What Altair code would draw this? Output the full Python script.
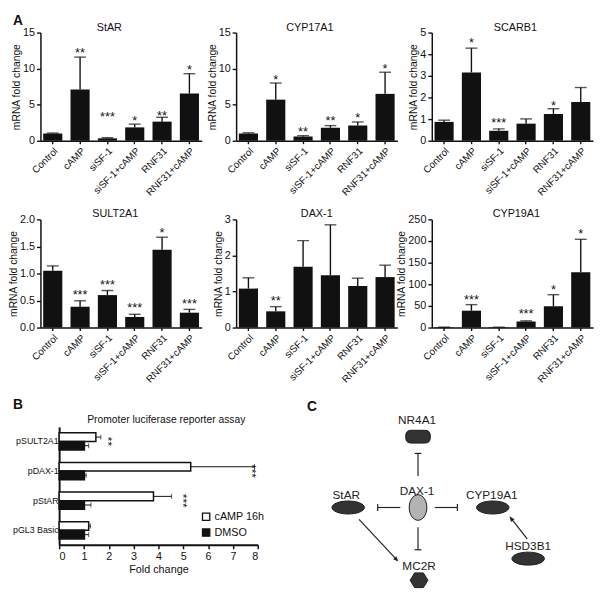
import altair as alt
import numpy as np
import pandas as pd

FONT = "Liberation Sans"
INK = "#111111"
nan = np.nan

# ---------------- Panel A data ----------------
conditions = ["Control", "cAMP", "siSF-1", "siSF-1+cAMP", "RNF31", "RNF31+cAMP"]

star_mean = [1.0, 7.1, 0.33, 1.85, 2.65, 6.55]
star_upper = [1.07, 11.6, 0.42, 2.3, 3.25, 9.3]
star_sig = ["", "**", "***", "*", "**", "*"]
star_sig_pos = [nan, 12.5, 3.7, 3.1, 3.8, 10.2]

cyp17_mean = [1.0, 5.7, 0.6, 1.8, 2.1, 6.5]
cyp17_upper = [1.1, 8.0, 0.7, 2.1, 2.6, 9.5]
cyp17_sig = ["", "*", "**", "**", "*", "*"]
cyp17_sig_pos = [nan, 8.8, 1.63, 3.2, 3.5, 10.4]

scarb_mean = [0.87, 3.16, 0.46, 0.79, 1.24, 1.79]
scarb_upper = [0.95, 4.28, 0.55, 1.01, 1.48, 2.46]
scarb_sig = ["", "*", "***", "", "*", ""]
scarb_sig_pos = [nan, 4.63, 0.94, nan, 1.75, nan]

sult_mean = [1.05, 0.385, 0.6, 0.196, 1.44, 0.275]
sult_upper = [1.14, 0.495, 0.685, 0.245, 1.67, 0.336]
sult_sig = ["", "***", "***", "***", "*", "***"]
sult_sig_pos = [nan, 0.65, 0.84, 0.42, 1.81, 0.48]

dax_mean = [1.08, 0.45, 1.69, 1.45, 1.15, 1.4]
dax_upper = [1.38, 0.58, 2.41, 2.85, 1.37, 1.73]
dax_sig = ["", "**", "", "", "", ""]
dax_sig_pos = [nan, 0.81, nan, nan, nan, nan]

cyp19_mean = [1.0, 39, 1.0, 14, 49, 128]
cyp19_upper = [1.0, 53, 1.0, 15.5, 76, 204]
cyp19_sig = ["", "***", "", "***", "*", "*"]
cyp19_sig_pos = [nan, 70, nan, 37, 93, 223]

# ---------------- Panel B data ----------------
b_promoters = ["pSULT2A1", "pDAX-1", "pStAR", "pGL3 Basic"]
b_treatments = ["cAMP 16h", "DMSO"]
b_camp_mean = [1.48, 5.3, 3.8, 1.19]
b_camp_upper = [1.68, 7.87, 4.53, 1.26]
b_dmso_mean = [1.02, 1.02, 1.02, 1.02]
b_dmso_upper = [1.19, 1.09, 1.28, 1.19]
b_sig = ["**", "***", "***", ""]
b_sig_pos = [2.08, 7.87, 5.1, nan]
b_ticks = [0, 1, 2, 3, 4, 5, 6, 7, 8]

# ---------------- Panel C data (diagram units, DAX-1 at origin) ----------------
c_nodes = ["NR4A1", "DAX-1", "StAR", "CYP19A1", "HSD3B1", "MC2R"]
c_node_kind = ["rounded", "vellipse", "ellipse", "ellipse", "ellipse", "hexagon"]
c_node_x = [0, 0, -71, 76, 112, 1]
c_node_y = [72, 0, 0, 0, -52, -74]
c_label_x = [-1, -1, -73, 75, 112, 1]
c_label_y = [89, 17, 13, 13, -39, -60]

c_inhib_from_x = [0, -18, 17, 0]
c_inhib_from_y = [32, 0, 0, -20]
c_inhib_to_x = [0, -41, 40, 0]
c_inhib_to_y = [55, 0, 0, -43]

c_arrow_from_x = [111, -60]
c_arrow_from_y = [-32, -12]
c_arrow_to_x = [93, -20]
c_arrow_to_y = [-9, -55]

PW, PH = 164, 110      # panel A plot size
BW, BH = 202, 120      # panel B plot size
CW, CH = 325, 120      # panel C plot size
B_LEFT = 19            # B plot left, relative to the StAR plot
ROW3_TOP = 401         # B plot top, relative to the StAR plot


def text_label(txt, x, y, size, weight="normal", align="left", baseline="top"):
    return alt.Chart(pd.DataFrame({"t": [txt]})).mark_text(
        font=FONT, fontSize=size, fontWeight=weight, color=INK, align=align, baseline=baseline
    ).encode(x=alt.value(x), y=alt.value(y), text="t:N")


def bar_panel(title, mean, upper, sig, sig_pos, ymax, ticks, fmt, title_dx, panel_label=None):
    df = pd.DataFrame({"cond": conditions, "mean": mean, "upper": upper})
    sdf = pd.DataFrame({"cond": conditions, "sig": sig, "pos": sig_pos})
    sdf = sdf[sdf["sig"] != ""]
    xscale = alt.Scale(paddingInner=0.3, paddingOuter=0.1)
    xax = alt.Axis(labelAngle=-45, labelFontSize=10, tickSize=3, labelPadding=2)

    def X():
        return alt.X("cond:N", sort=conditions, title=None, scale=xscale, axis=xax)

    yscale = alt.Scale(domain=[0, ymax], nice=False, zero=True)
    yax = alt.Axis(values=ticks, format=fmt, titlePadding=1,
                   labelFontSize=11, tickSize=4, labelPadding=2, labelOverlap=False)

    def Y(field):
        return alt.Y(field, scale=yscale, axis=yax, title="mRNA fold change")

    base = alt.Chart(df)
    bars = base.mark_bar(color=INK).encode(x=X(), y=Y("mean:Q"))
    err = base.mark_rule(color=INK, strokeWidth=1.4).encode(x=X(), y=Y("mean:Q"), y2="upper:Q")
    cap = base.mark_tick(color=INK, thickness=1.4, size=12).encode(x=X(), y=Y("upper:Q"))
    stars = alt.Chart(sdf).mark_text(
        font=FONT, fontSize=13, color=INK, baseline="middle", dy=3
    ).encode(x=X(), y=Y("pos:Q"), text="sig:N")
    layers = [bars, err, cap, stars,
              text_label(title, PW / 2 + title_dx, -2, 11, align="center", baseline="alphabetic")]
    if panel_label:
        layers.append(text_label(panel_label, -28, -19, 14, weight="bold"))
    return alt.layer(*layers).properties(width=PW, height=PH)


p_star = bar_panel("StAR", star_mean, star_upper, star_sig, star_sig_pos, 15, [0, 5, 10, 15], "d", -12, "A")
p_cyp17 = bar_panel("CYP17A1", cyp17_mean, cyp17_upper, cyp17_sig, cyp17_sig_pos, 15, [0, 5, 10, 15], "d", -7)
p_scarb = bar_panel("SCARB1", scarb_mean, scarb_upper, scarb_sig, scarb_sig_pos, 5, [0, 1, 2, 3, 4, 5], "d", 3)
p_sult = bar_panel("SULT2A1", sult_mean, sult_upper, sult_sig, sult_sig_pos, 2, [0, 0.5, 1, 1.5, 2], ".1f", -6)
p_dax = bar_panel("DAX-1", dax_mean, dax_upper, dax_sig, dax_sig_pos, 3, [0, 1, 2, 3], "d", 0)
p_cyp19 = bar_panel("CYP19A1", cyp19_mean, cyp19_upper, cyp19_sig, cyp19_sig_pos, 250, [0, 50, 100, 150, 200, 250], "d", 4)

# ---------------- Panel B ----------------
rows = []
for i, p in enumerate(b_promoters):
    rows.append({"prom": p, "treat": b_treatments[0], "mean": b_camp_mean[i], "upper": b_camp_upper[i]})
    rows.append({"prom": p, "treat": b_treatments[1], "mean": b_dmso_mean[i], "upper": b_dmso_upper[i]})
bdf = pd.DataFrame(rows)
bsig = pd.DataFrame({"prom": b_promoters, "sig": b_sig, "pos": b_sig_pos})
bsig = bsig[bsig["sig"] != ""]

b_yscale = alt.Scale(paddingInner=0.42, paddingOuter=0.2)
b_yax = alt.Axis(ticks=False, labelFontSize=9, labelPadding=1, domainWidth=2)
b_xscale = alt.Scale(domain=[0, 8], nice=False, zero=True)
b_xax = alt.Axis(values=b_ticks, labelFontSize=11, titleFontSize=11, domainWidth=2,
                 tickWidth=1.5, tickSize=4, titlePadding=2, labelOverlap=False)


def BY():
    return alt.Y("prom:N", sort=b_promoters, title=None, scale=b_yscale, axis=b_yax)


def BX(field):
    return alt.X(field, scale=b_xscale, axis=b_xax, title="Fold change")


b_yoff = alt.YOffset("treat:N", sort=b_treatments, scale=alt.Scale(paddingInner=0, paddingOuter=0))

b_bars = alt.Chart(bdf).mark_bar(stroke=INK, strokeWidth=1.5).encode(
    x=BX("mean:Q"), y=BY(), yOffset=b_yoff,
    fill=alt.Fill("treat:N", sort=b_treatments,
                  scale=alt.Scale(domain=b_treatments, range=["white", INK]),
                  legend=alt.Legend(title=None, orient="none",
                                    legendX=B_LEFT + 144, legendY=ROW3_TOP + 86,
                                    symbolType="square", symbolSize=55, symbolStrokeColor=INK,
                                    symbolStrokeWidth=1.3, labelFontSize=11, labelFont=FONT,
                                    labelColor=INK, rowPadding=3, labelOffset=3)),
)
b_err = alt.Chart(bdf).mark_rule(color=INK, strokeWidth=1).encode(
    x=BX("mean:Q"), x2="upper:Q", y=BY(), yOffset=b_yoff)
b_cap = alt.Chart(bdf).mark_tick(color=INK, thickness=1, size=5).encode(
    x=BX("upper:Q"), y=BY(), yOffset=b_yoff)
b_stars = alt.Chart(bsig).mark_text(font=FONT, fontSize=12, color=INK, angle=90,
                                    baseline="middle", dy=3).encode(
    x=BX("pos:Q"), y=BY(), text="sig:N")

p_b = alt.layer(
    b_bars, b_err, b_cap, b_stars,
    text_label("B", -47, -29, 14, weight="bold"),
    text_label("Promoter luciferase reporter assay", BW / 2 + 8, -4, 10.5,
               align="center", baseline="alphabetic"),
).properties(width=BW, height=BH)

# ---------------- Panel C ----------------
cx = alt.Scale(domain=[-145, 180], nice=False, zero=False)
cy = alt.Scale(domain=[-38, 82], nice=False, zero=False)
LINE = "#222222"

ndf = pd.DataFrame({"name": c_nodes, "kind": c_node_kind, "x": c_node_x, "y": c_node_y,
                    "lx": c_label_x, "ly": c_label_y})

ELLIPSE = ("M-1,0C-1,-0.221,-0.552,-0.4,0,-0.4C0.552,-0.4,1,-0.221,1,0"
           "C1,0.221,0.552,0.4,0,0.4C-0.552,0.4,-1,0.221,-1,0Z")
VELLIPSE = ("M0,-1C0.381,-1,0.69,-0.552,0.69,0C0.69,0.552,0.381,1,0,1"
            "C-0.381,1,-0.69,0.552,-0.69,0C-0.69,-0.552,-0.381,-1,0,-1Z")
ROUNDED = ("M-0.55,-0.52L0.55,-0.52Q1,-0.52,1,-0.07L1,0.07Q1,0.52,0.55,0.52"
           "L-0.55,0.52Q-1,0.52,-1,0.07L-1,-0.07Q-1,-0.52,-0.55,-0.52Z")
HEXAGON = "M-1,0L-0.5,-0.83L0.5,-0.83L1,0L0.5,0.83L-0.5,0.83Z"
ARROWHEAD = "M0,-1L0.75,0.8L-0.75,0.8Z"


def node_layer(kind, path, size, fill):
    return alt.Chart(ndf).transform_filter(alt.datum.kind == kind).mark_point(
        shape=path, size=size, filled=True, fill=fill, stroke="#1a1a1a", strokeWidth=1, opacity=1
    ).encode(x=alt.X("x:Q", scale=cx, axis=None), y=alt.Y("y:Q", scale=cy, axis=None))


# inhibition edges
ix = np.array(c_inhib_from_x, float)
iy = np.array(c_inhib_from_y, float)
ix2 = np.array(c_inhib_to_x, float)
iy2 = np.array(c_inhib_to_y, float)
L = np.hypot(ix2 - ix, iy2 - iy)
ux, uy = (ix2 - ix) / L, (iy2 - iy) / L
px, py = -uy, ux
inh_df = pd.DataFrame({"x": ix, "y": iy, "x2": ix2, "y2": iy2})
tbar_df = pd.DataFrame({"x": ix2 + 3.5 * px, "y": iy2 + 3.5 * py,
                        "x2": ix2 - 3.5 * px, "y2": iy2 - 3.5 * py})

# activation arrows
ax_ = np.array(c_arrow_from_x, float)
ay_ = np.array(c_arrow_from_y, float)
ax2 = np.array(c_arrow_to_x, float)
ay2 = np.array(c_arrow_to_y, float)
AL = np.hypot(ax2 - ax_, ay2 - ay_)
aux, auy = (ax2 - ax_) / AL, (ay2 - ay_) / AL
arr_df = pd.DataFrame({"x": ax_, "y": ay_, "x2": ax2 - 4 * aux, "y2": ay2 - 4 * auy})
head_df = pd.DataFrame({"x": ax2 - 3 * aux, "y": ay2 - 3 * auy,
                        "ang": np.degrees(np.arctan2(aux, auy)) % 360})


def rule_layer(df):
    return alt.Chart(df).mark_rule(color=LINE, strokeWidth=1.2).encode(
        x=alt.X("x:Q", scale=cx, axis=None), y=alt.Y("y:Q", scale=cy, axis=None),
        x2="x2:Q", y2="y2:Q")


heads = alt.Chart(head_df).mark_point(shape=ARROWHEAD, size=36, filled=True, fill=LINE,
                                       opacity=1, strokeWidth=0).encode(
    x=alt.X("x:Q", scale=cx, axis=None), y=alt.Y("y:Q", scale=cy, axis=None),
    angle=alt.Angle("ang:Q", scale=None))

labels = alt.Chart(ndf).mark_text(font=FONT, fontSize=12, color="#222222", baseline="middle").encode(
    x=alt.X("lx:Q", scale=cx, axis=None), y=alt.Y("ly:Q", scale=cy, axis=None), text="name:N")

p_c = alt.layer(
    rule_layer(inh_df), rule_layer(tbar_df), rule_layer(arr_df), heads,
    node_layer("ellipse", ELLIPSE, 1089, "#333333"),
    node_layer("vellipse", VELLIPSE, 676, "#b3b3b3"),
    node_layer("rounded", ROUNDED, 625, "#333333"),
    node_layer("hexagon", HEXAGON, 324, "#333333"),
    labels, text_label("C", 32, -27, 14, weight="bold"),
).properties(width=CW, height=CH)

spacer = alt.Chart(pd.DataFrame({"v": [0]})).mark_point(opacity=0).encode(
    x=alt.X("v:Q", axis=None), y=alt.Y("v:Q", axis=None)).properties(width=1, height=BH)

# With flush bounds, nested concat rows count as zero height, so the spacing
# values below are the distances between the tops of consecutive plot rows.
top = alt.vconcat(
    alt.hconcat(p_star, p_cyp17, p_scarb, spacing=35, bounds="flush"),
    alt.hconcat(p_sult, p_dax, p_cyp19, spacing=35, bounds="flush"),
    spacing=190, bounds="flush",
)
row3 = alt.hconcat(spacer, p_b, p_c, spacing=B_LEFT - 1, bounds="flush")

chart = alt.vconcat(top, row3, spacing=ROW3_TOP, bounds="flush").properties(
    padding={"left": 0, "top": 0, "right": 0, "bottom": 0}
).configure_axis(
    domainColor=INK, domainWidth=1.5, tickColor=INK, tickWidth=1.4, labelColor=INK,
    titleColor=INK, labelFont=FONT, titleFont=FONT, titleFontSize=10.5,
    titleFontWeight="normal", grid=False,
).configure_view(stroke="transparent").configure_legend(labelFont=FONT)

chart.save("out.html", embed_options={"renderer": "svg", "actions": False})
